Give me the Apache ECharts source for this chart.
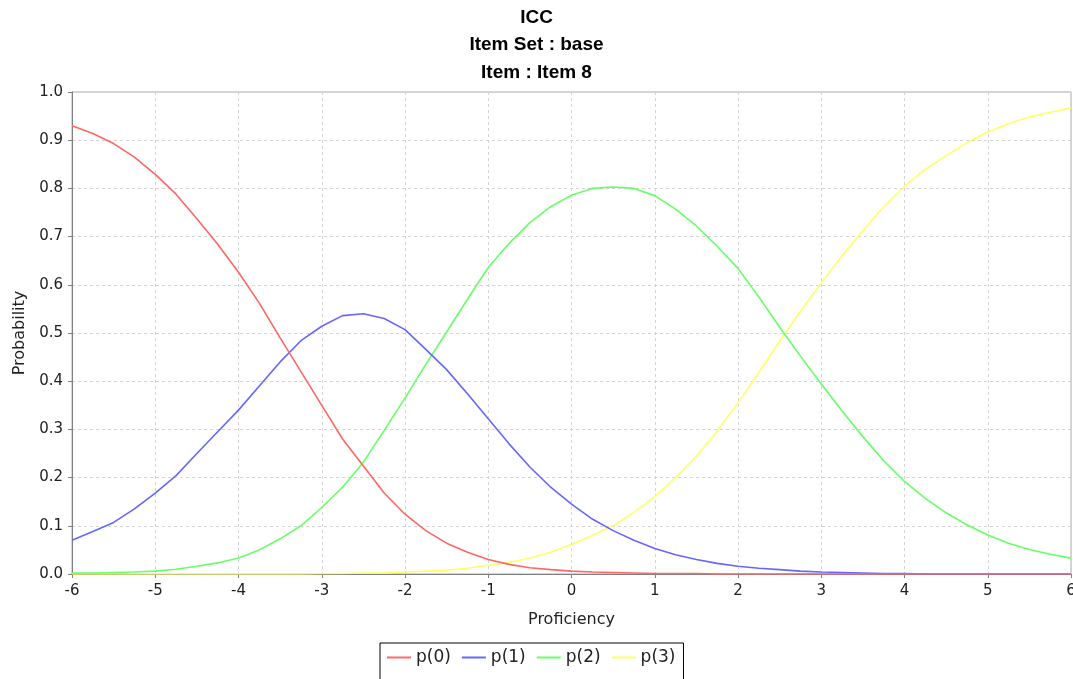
<!DOCTYPE html>
<html>
<head>
<meta charset="utf-8">
<title>ICC - Item 8</title>
<script src="https://cdn.jsdelivr.net/npm/echarts@6/dist/echarts.min.js"></script>
<style>
  html, body { margin: 0; padding: 0; background: #ffffff; }
  #chart { width: 1073px; height: 679px; }
</style>
</head>
<body>
<div id="chart"></div>
<script>
// Proficiency grid (theta) at which the category probabilities were evaluated
const proficiency = [
  -6, -5.75, -5.5, -5.25, -5, -4.75, -4.5, -4.25, -4, -3.75, -3.5, -3.25,
  -3, -2.75, -2.5, -2.25, -2, -1.75, -1.5, -1.25, -1, -0.75, -0.5, -0.25,
  0, 0.25, 0.5, 0.75, 1, 1.25, 1.5, 1.75, 2, 2.25, 2.5, 2.75,
  3, 3.25, 3.5, 3.75, 4, 4.25, 4.5, 4.75, 5, 5.25, 5.5, 5.75, 6
];

// Category response probabilities
const p0 = [
  0.930, 0.914, 0.893, 0.865, 0.829, 0.788, 0.737, 0.684, 0.626, 0.562, 0.490, 0.420,
  0.350, 0.280, 0.224, 0.168, 0.124, 0.090, 0.064, 0.045, 0.030, 0.020, 0.013, 0.009,
  0.006, 0.004, 0.003, 0.002, 0.001, 0.001, 0.001, 0.000, 0.000, 0.000, 0.000, 0.000,
  0.000, 0.000, 0.000, 0.000, 0.000, 0.000, 0.000, 0.000, 0.000, 0.000, 0.000, 0.000, 0.000
];
const p1 = [
  0.070, 0.088, 0.107, 0.135, 0.168, 0.204, 0.250, 0.295, 0.340, 0.390, 0.440, 0.484,
  0.514, 0.536, 0.540, 0.530, 0.507, 0.466, 0.424, 0.374, 0.322, 0.270, 0.222, 0.180,
  0.145, 0.114, 0.090, 0.070, 0.053, 0.040, 0.030, 0.022, 0.016, 0.012, 0.009, 0.006,
  0.004, 0.003, 0.002, 0.001, 0.001, 0.000, 0.000, 0.000, 0.000, 0.000, 0.000, 0.000, 0.000
];
const p2 = [
  0.002, 0.002, 0.003, 0.004, 0.006, 0.010, 0.016, 0.023, 0.033, 0.050, 0.073, 0.100,
  0.138, 0.180, 0.232, 0.298, 0.365, 0.435, 0.502, 0.570, 0.636, 0.686, 0.729, 0.762,
  0.786, 0.800, 0.803, 0.800, 0.785, 0.757, 0.722, 0.680, 0.634, 0.575, 0.512, 0.452,
  0.394, 0.338, 0.285, 0.235, 0.192, 0.157, 0.127, 0.102, 0.081, 0.064, 0.051, 0.041, 0.033
];
const p3 = [
  0.000, 0.000, 0.000, 0.000, 0.000, 0.000, 0.000, 0.000, 0.000, 0.000, 0.000, 0.000,
  0.001, 0.001, 0.002, 0.002, 0.004, 0.006, 0.008, 0.012, 0.018, 0.024, 0.033, 0.045,
  0.061, 0.080, 0.100, 0.128, 0.160, 0.200, 0.244, 0.296, 0.355, 0.418, 0.483, 0.545,
  0.604, 0.660, 0.712, 0.762, 0.804, 0.840, 0.868, 0.895, 0.917, 0.934, 0.948, 0.958, 0.967
];

const seriesNames = ['p(0)', 'p(1)', 'p(2)', 'p(3)'];
const seriesColors = ['#ff6666', '#6666ff', '#66ff66', '#ffff66'];
const seriesValues = [p0, p1, p2, p3];

const titleLines = ['ICC', 'Item Set : base', 'Item : Item 8'];
const xTitle = 'Proficiency';
const yTitle = 'Probability';

const FONT = "'DejaVu Sans', 'Liberation Sans', sans-serif";

const chart = echarts.init(document.getElementById('chart'), null, { renderer: 'canvas' });

const series = seriesValues.map((vals, i) => ({
  name: seriesNames[i],
  type: 'line',
  data: proficiency.map((x, k) => [x, vals[k]]),
  showSymbol: false,
  symbol: 'none',
  smooth: false,
  // first category drawn on top
  z: 10 - i,
  lineStyle: { color: seriesColors[i], width: 1.6 },
  itemStyle: { color: seriesColors[i] },
  emphasis: { disabled: true },
  animation: false
}));

chart.setOption({
  backgroundColor: '#ffffff',
  animation: false,
  title: {
    text: titleLines.join('\n'),
    left: 'center',
    top: 4,
    padding: 0,
    textStyle: {
      fontFamily: "'Liberation Sans', Arial, sans-serif",
      fontWeight: 'bold',
      fontSize: 19,
      lineHeight: 27.5,
      color: '#000000'
    }
  },
  grid: {
    left: 72,
    right: 2,
    top: 92,
    bottom: 105,
    outerBoundsMode: 'none',
    containLabel: false,
    show: true,
    borderColor: '#a8a8a8',
    borderWidth: 1,
    backgroundColor: 'transparent'
  },
  legend: {
    data: seriesNames,
    left: 380,
    top: 643,
    orient: 'horizontal',
    borderColor: '#000000',
    borderWidth: 1,
    padding: [6, 8, 14, 7],
    itemGap: 11,
    itemWidth: 24,
    itemHeight: 2,
    icon: 'rect',
    textStyle: { fontFamily: FONT, fontSize: 17, color: '#222222' },
    selectedMode: false
  },
  xAxis: {
    type: 'value',
    min: -6,
    max: 6,
    interval: 1,
    name: xTitle,
    nameLocation: 'middle',
    nameGap: 38,
    nameTextStyle: { fontFamily: FONT, fontSize: 16, color: '#222222' },
    axisLine: { show: true, onZero: false, lineStyle: { color: '#808080', width: 1 } },
    axisTick: { show: true, length: 4, lineStyle: { color: '#808080' } },
    axisLabel: { fontFamily: FONT, fontSize: 15, color: '#222222', margin: 10, showMaxLabel: true, showMinLabel: true },
    splitLine: { show: true, lineStyle: { color: '#d4d4d4', type: [3, 3], width: 1 } }
  },
  yAxis: {
    type: 'value',
    min: 0,
    max: 1,
    interval: 0.1,
    name: yTitle,
    nameLocation: 'middle',
    nameGap: 44,
    nameRotate: 90,
    nameTextStyle: { fontFamily: FONT, fontSize: 16, color: '#222222' },
    axisLine: { show: true, onZero: false, lineStyle: { color: '#808080', width: 1 } },
    axisTick: { show: true, length: 4, lineStyle: { color: '#808080' } },
    axisLabel: {
      fontFamily: FONT, fontSize: 15, color: '#222222', margin: 9,
      formatter: v => v.toFixed(1)
    },
    splitLine: { show: true, lineStyle: { color: '#d4d4d4', type: [3, 3], width: 1 } }
  },
  series: series
});
</script>
</body>
</html>
